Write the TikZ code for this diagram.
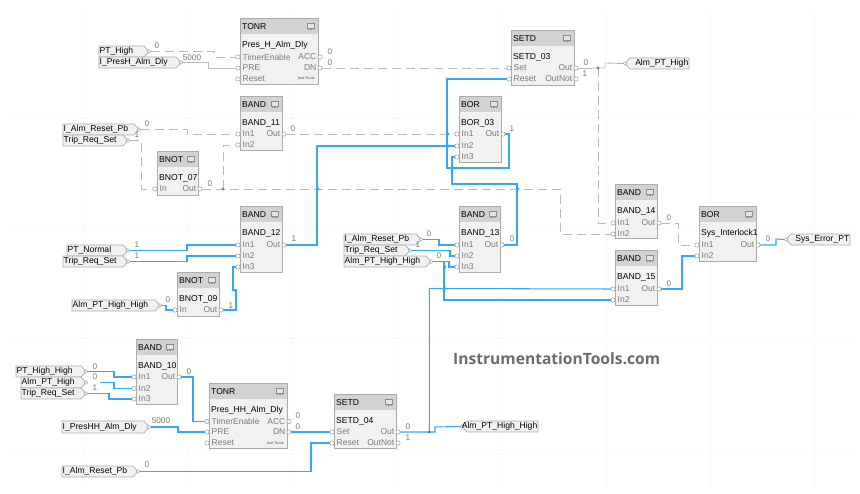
\documentclass[tikz,border=0pt]{standalone}
\usepackage{fontspec}
\setmainfont{Liberation Sans}
\newfontfamily\wmfont{Open Sans}
\definecolor{wblue}{HTML}{35A8F5}
\definecolor{wgray}{HTML}{BABABA}
\definecolor{bedge}{HTML}{ABABAB}
\definecolor{bfill}{HTML}{F1F1F1}
\definecolor{bhead}{HTML}{D2D2D2}
\definecolor{plab}{HTML}{7A7A7A}
\newcounter{lbl}
\tikzset{
  fbody/.style={draw=bedge,fill=bfill,line width=0.9pt,inner sep=0,outer sep=0},
  fhead/.style={fill=bhead},
  ftxt/.style={font=\fontsize{8.6}{9}\selectfont,text=black,inner sep=0,anchor=west},
  pintxtL/.style={font=\fontsize{8.5}{9}\selectfont,text=plab,inner sep=0,anchor=west},
  pintxtR/.style={font=\fontsize{8.5}{9}\selectfont,text=plab,inner sep=0,anchor=east},
  pinc/.style={draw=black!45,fill=white,line width=0.4pt},
  tagshape/.style={draw=bedge,fill=bfill,line width=0.7pt},
  vallab/.style={font=\fontsize{8.2}{9}\selectfont,text=plab,inner sep=0},
  bluew/.style={draw=wblue,line width=1.05pt},
  grayd/.style={draw=wgray,line width=0.85pt,dash pattern=on 9pt off 5pt},
  grays/.style={draw=wgray,line width=0.85pt},
  griddot/.style={draw=black!8,line width=0.4pt,dash pattern=on 1pt off 3pt},
}
% block: id x1 y1 x2 y2 type name
\newcommand{\fblock}[7]{%
  \def\bxa{#2}\def\bxb{#4}%
  \pgfmathsetmacro{\bw}{#4-#2}\pgfmathsetmacro{\bh}{#5-#3}%
  \node[fbody,minimum width=\bw pt,minimum height=\bh pt,anchor=north west] (#1) at (#2,#3) {};
  \fill[fhead] (#2,#3) rectangle (#4,#3+16);
  \draw[draw=bedge,line width=0.9pt] (#2,#3) rectangle (#4,#5);
  \draw[draw=black!45,line width=0.4pt,fill=white!90!black] (#4-11,#3+5) rectangle (#4-4,#3+10);
  \draw[draw=black!45,line width=0.4pt,dash pattern=on 0.8pt off 0.8pt] (#4-10,#3+11.5) -- (#4-5,#3+11.5);
  \node[ftxt] (#1-type) at (#2+2,#3+8.5) {#6};
  \node[ftxt] (#1-name) at (#2+2,#3+27) {#7};
}
\newcommand{\pinL}[3]{% id-key label y
  \path[pinc] (\bxa-2,#3) circle (2.2);
  \coordinate (#1) at (\bxa-4,#3);
  \node[pintxtL] (#1-t) at (\bxa+2.5,#3) {#2};
}
\newcommand{\pinR}[3]{%
  \path[pinc] (\bxb+2,#3) circle (2.2);
  \coordinate (#1) at (\bxb+4,#3);
  \node[pintxtR] (#1-t) at (\bxb-1.5,#3) {#2};
}
% tag pointing right: id x1 y1 x2 y2 text
\newcommand{\tagin}[6]{%
  \draw[tagshape] (#2,#3) -- (#4-6,#3) -- (#4-1,#3/2+#5/2) -- (#4-6,#5) -- (#2,#5) -- cycle;
  \path[pinc] (#4-1,#3/2+#5/2) circle (1.8);
  \coordinate (#1) at (#4+1,#3/2+#5/2);
  \node[ftxt] (#1-t) at (#2+0.5,#3/2+#5/2) {#6};
}
% tag pointing left
\newcommand{\tagout}[6]{%
  \draw[tagshape] (#4,#3) -- (#2+8,#3) -- (#2+3,#3/2+#5/2) -- (#2+8,#5) -- (#4,#5) -- cycle;
  \path[pinc] (#2+3,#3/2+#5/2) circle (1.8);
  \coordinate (#1) at (#2+1,#3/2+#5/2);
  \node[ftxt,anchor=east] (#1-t) at (#4-0.5,#3/2+#5/2) {#6};
}
\newcommand{\wl}[3]{\stepcounter{lbl}\node[vallab] (val\arabic{lbl}) at (#1,#2) {#3};}
\newcommand{\jumpb}[2]{\draw[wblue,line width=1.05pt] (#1,#2-2.6) .. controls (#1+2.2,#2-1.2) and (#1+2.2,#2+1.2) .. (#1,#2+2.6);}
\begin{document}
\begin{tikzpicture}[x=1pt,y=-1pt]
\useasboundingbox[fill=white] (0,0) rectangle (860,494);
% grid
\foreach \gx in {83,187.5,292,397,501,606,710,814} \draw[griddot] (\gx,14) -- (\gx,490);
\foreach \gy in {118,228,338,449} \draw[griddot] (10,\gy) -- (855,\gy);

% blocks
\fblock{tonrh}{240}{18}{318}{84}{TONR}{Pres\_H\_Alm\_Dly}
\pinL{tonrh-te}{TimerEnable}{57}\pinL{tonrh-pre}{PRE}{68}\pinL{tonrh-rst}{Reset}{79}
\pinR{tonrh-acc}{ACC}{57}\pinR{tonrh-dn}{DN}{68}
\node[font=\fontsize{3.6}{4}\selectfont\bfseries,text=black!55,inner sep=0,anchor=east] (tonrh-it) at (315,78.5) {Inst Tools};

\fblock{b11}{240}{96}{282}{150}{BAND}{BAND\_11}
\pinL{b11-i1}{In1}{134}\pinL{b11-i2}{In2}{145}\pinR{b11-o}{Out}{134}

\fblock{n07}{157}{151}{198}{195}{BNOT}{BNOT\_07}
\pinL{n07-i}{In}{189}\pinR{n07-o}{Out}{189}

\fblock{b12}{240}{206}{282}{272}{BAND}{BAND\_12}
\pinL{b12-i1}{In1}{245}\pinL{b12-i2}{In2}{256}\pinL{b12-i3}{In3}{267}\pinR{b12-o}{Out}{245}

\fblock{n09}{177}{272}{219}{316}{BNOT}{BNOT\_09}
\pinL{n09-i}{In}{310}\pinR{n09-o}{Out}{310}

\fblock{b10}{136}{339}{177}{404}{BAND}{BAND\_10}
\pinL{b10-i1}{In1}{377}\pinL{b10-i2}{In2}{388.5}\pinL{b10-i3}{In3}{399}\pinR{b10-o}{Out}{377}

\fblock{tonrhh}{209}{383}{287}{448}{TONR}{Pres\_HH\_Alm\_Dly}
\pinL{tonrhh-te}{TimerEnable}{421.5}\pinL{tonrhh-pre}{PRE}{432}\pinL{tonrhh-rst}{Reset}{443}
\pinR{tonrhh-acc}{ACC}{421.5}\pinR{tonrhh-dn}{DN}{432}
\node[font=\fontsize{3.6}{4}\selectfont\bfseries,text=black!55,inner sep=0,anchor=east] (tonrhh-it) at (284,443) {Inst Tools};

\fblock{s04}{334}{394}{396}{448}{SETD}{SETD\_04}
\pinL{s04-s}{Set}{432}\pinL{s04-r}{Reset}{443}\pinR{s04-o}{Out}{432}\pinR{s04-n}{OutNot}{443}

\fblock{s03}{511}{30}{574}{85}{SETD}{SETD\_03}
\pinL{s03-s}{Set}{68}\pinL{s03-r}{Reset}{79}\pinR{s03-o}{Out}{68}\pinR{s03-n}{OutNot}{79}

\fblock{o03}{459}{96}{501}{162}{BOR}{BOR\_03}
\pinL{o03-i1}{In1}{134}\pinL{o03-i2}{In2}{146}\pinL{o03-i3}{In3}{157}\pinR{o03-o}{Out}{134}

\fblock{b13}{459}{206}{500}{272}{BAND}{BAND\_13}
\pinL{b13-i1}{In1}{245}\pinL{b13-i2}{In2}{256}\pinL{b13-i3}{In3}{267}\pinR{b13-o}{Out}{245}

\fblock{b14}{615}{184}{657}{238}{BAND}{BAND\_14}
\pinL{b14-i1}{In1}{223}\pinL{b14-i2}{In2}{234}\pinR{b14-o}{Out}{223}

\fblock{b15}{615}{250}{657}{305}{BAND}{BAND\_15}
\pinL{b15-i1}{In1}{289}\pinL{b15-i2}{In2}{300}\pinR{b15-o}{Out}{289}

\fblock{sys}{699}{206}{756}{261}{BOR}{Sys\_Interlock1}
\pinL{sys-i1}{In1}{245}\pinL{sys-i2}{In2}{256}\pinR{sys-o}{Out}{245}

% tags
\tagin{tPTH}{99}{46}{150}{57}{PT\_High}
\tagin{tPD}{99}{57}{182}{68}{I\_PresH\_Alm\_Dly}
\tagin{tR1}{63}{124}{140}{135}{I\_Alm\_Reset\_Pb}
\tagin{tT1}{63}{135}{129}{146}{Trip\_Req\_Set}
\tagin{tPN}{67}{245}{129}{256}{PT\_Normal}
\tagin{tT2}{63}{256}{129}{267}{Trip\_Req\_Set}
\tagin{tHH1}{72}{300}{161}{311}{Alm\_PT\_High\_High}
\tagin{tR2}{344}{234}{422}{245}{I\_Alm\_Reset\_Pb}
\tagin{tT3}{344}{245}{411}{256}{Trip\_Req\_Set}
\tagin{tHH2}{344}{256}{432}{267}{Alm\_PT\_High\_High}
\tagin{tPHH}{16}{366}{87}{377}{PT\_High\_High}
\tagin{tAH}{21}{377}{87}{388}{Alm\_PT\_High}
\tagin{tT4}{21}{388}{87}{399}{Trip\_Req\_Set}
\tagin{tPDH}{62}{421}{150}{433}{I\_PresHH\_Alm\_Dly}
\tagin{tR3}{62}{466}{139}{477}{I\_Alm\_Reset\_Pb}
\tagout{oAH}{622}{58}{689}{69}{Alm\_PT\_High}
\tagout{oSE}{783}{234}{850}{245}{Sys\_Error\_PT}
\tagout{oHH}{459}{421}{538}{432}{Alm\_PT\_High\_High}

% gray wires
\draw[grayd] (tPTH) -- (214,51.5) -- (214,57) -- (tonrh-te);
\draw[grays] (tPD) -- (208,62.5) -- (208,68) -- (tonrh-pre);
\draw[grayd] (tonrh-dn) -- (s03-s);
\draw[grays] (s03-o) -- (592,68);
\draw[grays] (592,68) -- (605,68) -- (605,63) -- (oAH);
\draw[grayd] (598,68) -- (598,223) -- (b14-i1);
\draw[grayd] (tR1) -- (187,129.5) -- (187,134) -- (b11-i1);
\draw[grayd] (b11-o) -- (o03-i1);
\draw[grayd] (tT1) -- (141,140.5) -- (141,189) -- (n07-i);
\draw[grayd] (n07-o) -- (560,189) -- (560,234) -- (b14-i2);
\draw[grayd] (223,189) -- (223,145) -- (b11-i2);
\draw[grayd] (b14-o) -- (678,223) -- (678,245) -- (sys-i1);
\fill[wgray!70!black] (598,68) circle (1.6);
\fill[wgray!70!black] (223,189) circle (1.6);

% blue wires
\draw[bluew] (s03-r) -- (447,79) -- (447,168) -- (509,168) -- (509,134) -- (o03-o);
\draw[bluew] (o03-i3) -- (452,157) -- (452,184) -- (517,184) -- (517,245) -- (b13-o);
\draw[bluew] (b12-o) -- (317,245) -- (317,146) -- (o03-i2);
\draw[bluew] (b15-o) -- (682,289) -- (682,256) -- (sys-i2);
\draw[bluew] (sys-o) -- (776,245) -- (776,239) -- (oSE);
\draw[bluew] (s04-o) -- (435,432) -- (435,427) -- (oHH);
\draw[bluew] (429.3,432) -- (429.3,288.5) -- (b15-i1);
\draw[bluew] (tHH2) -- (449,261.5) -- (449,267) -- (b13-i3);
\draw[bluew] (444,261.5) -- (444,300) -- (b15-i2);
\draw[bluew] (tR2) -- (439,239.5) -- (439,245) -- (b13-i1);
\draw[bluew] (tT3) -- (450,250.5) -- (450,256) -- (b13-i2);
\draw[bluew] (s04-r) -- (311,443) -- (311,471.5) -- (tR3);
\draw[bluew] (tonrhh-dn) -- (s04-s);
\draw[bluew] (b10-o) -- (193,377) -- (193,421.5) -- (tonrhh-te);
\draw[bluew] (tPDH) -- (178,427) -- (178,432) -- (tonrhh-pre);
\draw[bluew] (tPHH) -- (114,371.5) -- (114,377) -- (b10-i1);
\coordinate (aoff) at (100,382.5);
\draw[bluew] (aoff) -- (114,382.5) -- (114,388.5) -- (b10-i2);
\draw[bluew] (tT4) -- (109,393.5) -- (109,399) -- (b10-i3);
\draw[bluew] (tPN) -- (187,250.5) -- (187,245) -- (b12-i1);
\draw[bluew] (tT2) -- (187,261.5) -- (187,256) -- (b12-i2);
\draw[bluew] (tHH1) -- (166,305.5) -- (166,310) -- (n09-i);
\draw[bluew] (n09-o) -- (236,310) -- (236,290) -- (233,290) -- (233,267) -- (b12-i3);
\jumpb{317}{189}\jumpb{517}{189}\jumpb{447}{134}\jumpb{447}{146}\jumpb{452}{168}\jumpb{444}{288.5}\jumpb{444}{267}
\fill[wblue!70!black] (429.3,432) circle (1.4);

% values
\wl{157}{46}{0}\wl{192}{58}{5000}\wl{330}{52}{0}\wl{330}{63}{0}
\wl{147}{124}{0}\wl{137}{135}{1}\wl{293}{129}{0}\wl{210}{184}{0}
\wl{294}{239}{1}\wl{137}{245}{1}\wl{137}{256}{1}\wl{168}{300}{0}\wl{231}{306}{1}
\wl{512}{129}{1}\wl{586}{63}{0}\wl{585}{74}{1}
\wl{669}{218}{0}\wl{669}{284}{0}\wl{768}{239}{0}
\wl{429}{234}{0}\wl{418}{245}{1}\wl{439}{256}{0}\wl{512}{239}{0}
\wl{95}{367}{0}\wl{95}{377}{0}\wl{95}{388}{1}\wl{189}{372}{0}\wl{161}{421}{5000}\wl{147}{465}{0}
\wl{298}{416}{0}\wl{298}{427}{0}\wl{408}{427}{0}\wl{408}{438}{1}

% watermark
\node[font=\wmfont\bfseries\fontsize{15.6}{17}\selectfont,text=black!58,inner sep=0,anchor=west] (wm) at (453,359) {InstrumentationTools.com};
\end{tikzpicture}
\end{document}
